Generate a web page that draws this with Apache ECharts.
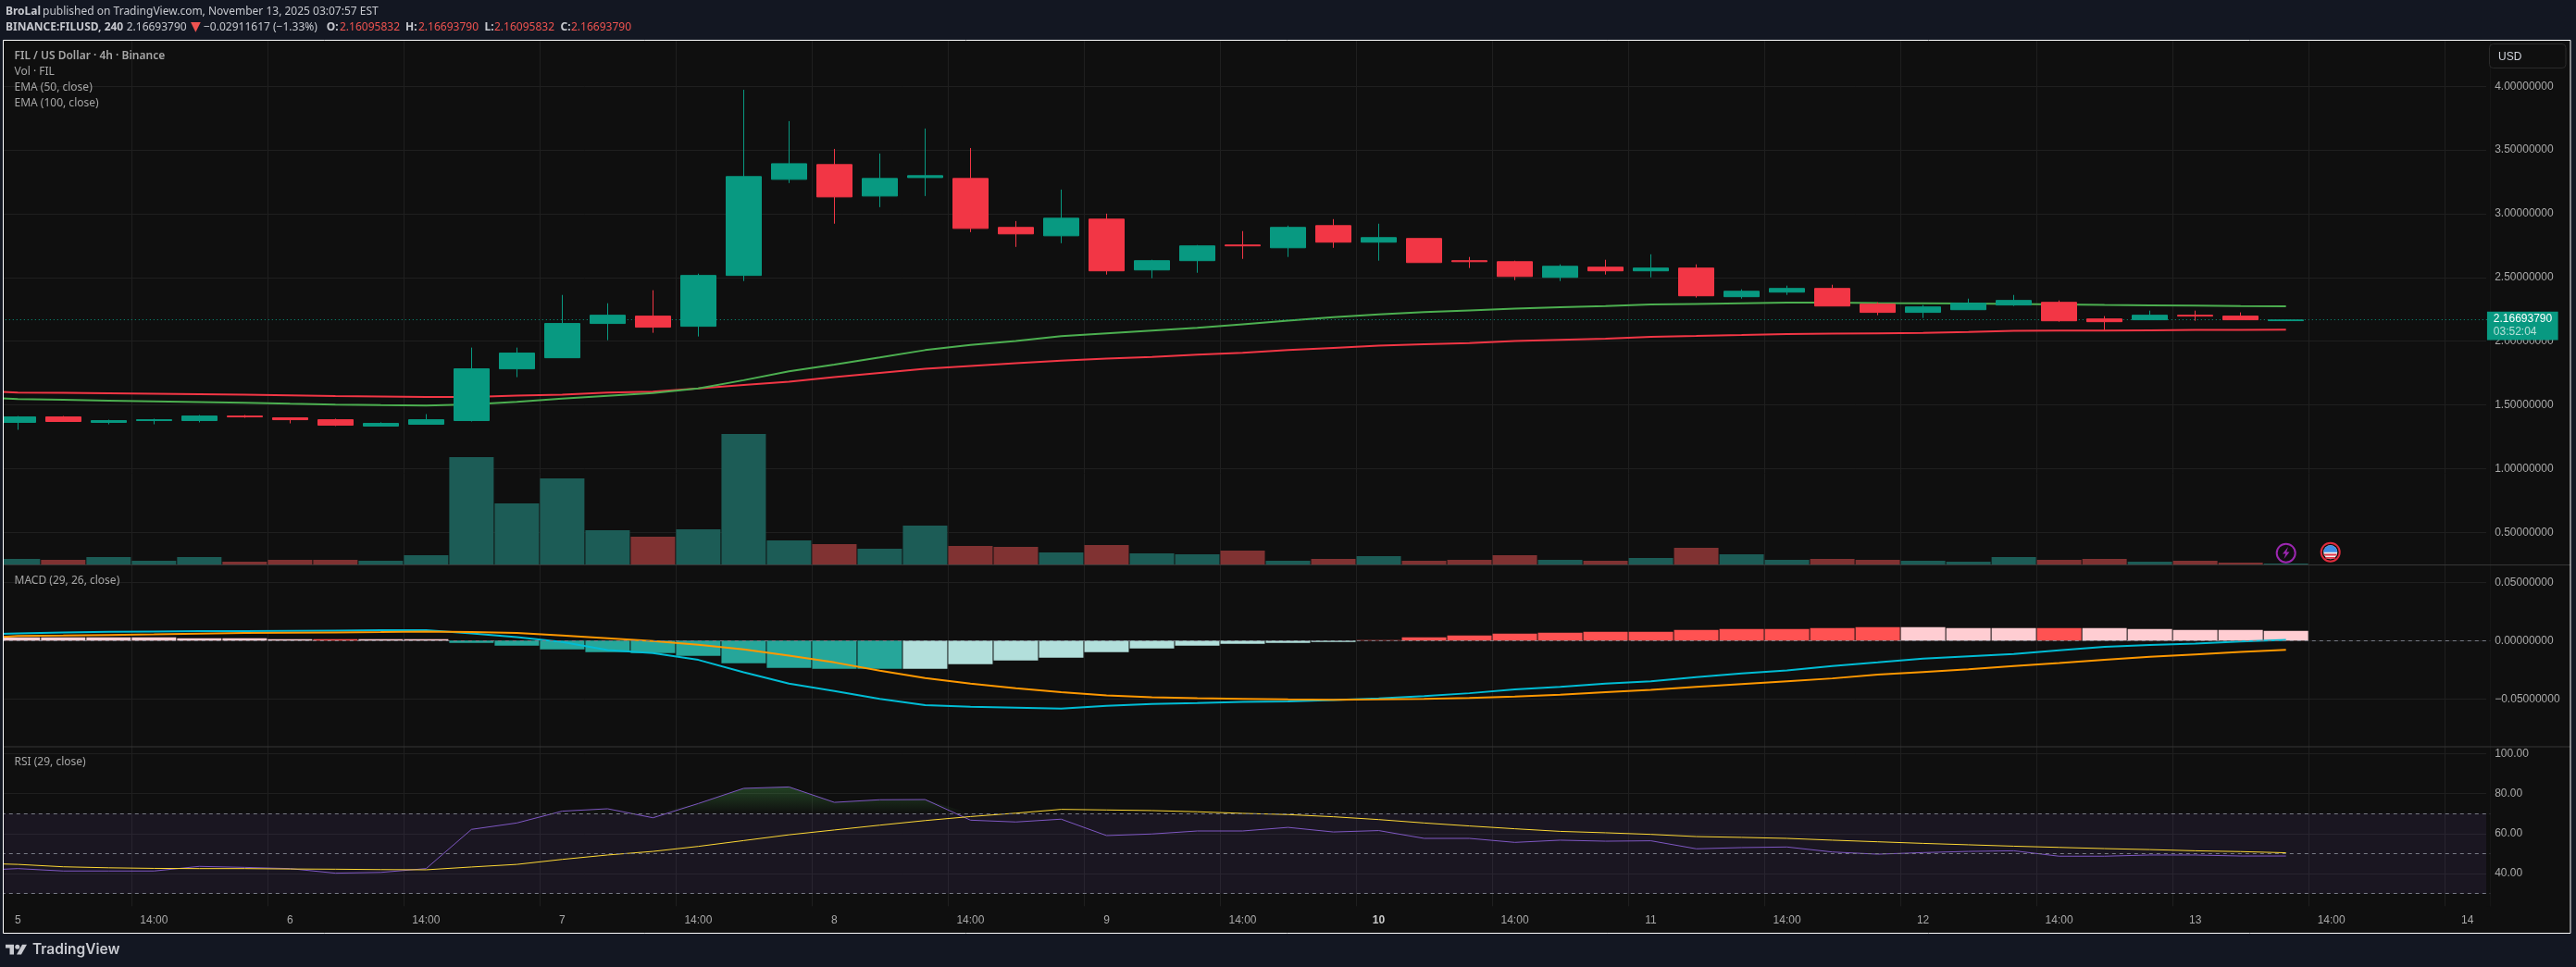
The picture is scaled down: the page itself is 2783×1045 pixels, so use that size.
<!DOCTYPE html>
<html><head><meta charset="utf-8"><title>FIL / US Dollar</title>
<script src="https://cdn.jsdelivr.net/npm/echarts@6/dist/echarts.min.js"></script>
<style>html,body{margin:0;padding:0;background:#131722;overflow:hidden}#c{position:absolute;left:-60px;top:0;width:2843px;height:1045px}</style>
</head><body><div id="c"></div>
<script>
const timeTicks=["5","14:00","6","14:00","7","14:00","8","14:00","9","14:00","10","14:00","11","14:00","12","14:00","13","14:00","14"];
const opens=[1.363,1.406,1.363,1.377,1.377,1.413,1.399,1.384,1.334,1.348,1.377,1.783,1.870,2.139,2.197,2.117,2.516,3.270,3.386,3.139,3.284,3.277,2.893,2.827,2.958,2.559,2.632,2.755,2.733,2.907,2.777,2.806,2.632,2.624,2.501,2.581,2.552,2.574,2.349,2.385,2.414,2.291,2.226,2.247,2.284,2.305,2.175,2.168,2.204,2.197,2.16095832];
const closes=[1.406,1.370,1.377,1.384,1.413,1.406,1.384,1.341,1.355,1.384,1.783,1.907,2.139,2.204,2.110,2.516,3.292,3.393,3.132,3.277,3.299,2.885,2.842,2.965,2.552,2.632,2.748,2.748,2.893,2.777,2.813,2.617,2.624,2.508,2.588,2.552,2.574,2.356,2.392,2.414,2.276,2.226,2.269,2.298,2.320,2.160,2.153,2.204,2.197,2.168,2.16693790];
const lows=[1.305,1.370,1.348,1.348,1.363,1.399,1.355,1.334,1.334,1.348,1.370,1.718,1.870,2.008,2.066,2.037,2.472,3.241,2.922,3.052,3.139,2.856,2.740,2.769,2.523,2.494,2.537,2.646,2.661,2.733,2.632,2.617,2.574,2.479,2.472,2.523,2.501,2.342,2.334,2.363,2.276,2.204,2.182,2.247,2.276,2.153,2.088,2.168,2.160,2.168,2.16095832];
const highs=[1.413,1.413,1.384,1.392,1.421,1.421,1.399,1.392,1.363,1.428,1.950,1.950,2.363,2.298,2.400,2.530,3.973,3.727,3.509,3.473,3.669,3.516,2.943,3.190,3.001,2.639,2.755,2.864,2.907,2.958,2.922,2.806,2.661,2.632,2.603,2.639,2.682,2.603,2.407,2.436,2.443,2.305,2.284,2.334,2.363,2.320,2.197,2.240,2.240,2.226,2.16693790];
const volumes=[6,5,8,4,8,3,5,5,4,10,116,66,93,37,30,38,141,26,22,17,42,20,19,13,21,12,11,15,4,6,9,4,5,10,5,4,7,18,11,5,6,5,4,3,8,5,6,3,4,2,1];
const macdHist=[.0028,.0028,.0028,.0028,.0020,.0020,.0012,.0012,.0012,.0012,-.0020,-.0044,-.0075,-.0099,-.0107,-.0131,-.0194,-.0234,-.0242,-.0242,-.0242,-.0202,-.0171,-.0147,-.0099,-.0067,-.0044,-.0028,-.0020,-.0012,.0004,.0028,.0044,.0060,.0067,.0075,.0075,.0091,.0099,.0099,.0107,.0115,.0115,.0107,.0107,.0107,.0107,.0099,.0091,.0091,.0083];
const macdShade="PPPPPPPRPPTTTTTTTTTTLLLLLLLLLLRRRRRRRRRRRRPPPRPPPPP".split("");
// Indicator lines carry one extra leading value: the bar just off the left edge, so the lines reach the border.
const ema50=[1.562,1.546,1.540,1.534,1.528,1.522,1.517,1.509,1.503,1.498,1.495,1.505,1.524,1.549,1.571,1.593,1.629,1.694,1.764,1.816,1.872,1.930,1.970,2.001,2.039,2.061,2.083,2.105,2.133,2.162,2.189,2.211,2.228,2.242,2.255,2.267,2.276,2.289,2.293,2.298,2.303,2.303,2.300,2.298,2.296,2.293,2.289,2.284,2.281,2.279,2.276,2.274];
const ema100=[1.613,1.597,1.595,1.591,1.587,1.584,1.580,1.575,1.569,1.566,1.563,1.563,1.573,1.580,1.597,1.604,1.629,1.656,1.682,1.718,1.752,1.783,1.805,1.827,1.848,1.863,1.877,1.894,1.909,1.930,1.948,1.965,1.977,1.986,2.001,2.010,2.020,2.035,2.041,2.048,2.057,2.059,2.062,2.066,2.073,2.081,2.083,2.084,2.086,2.088,2.089,2.090];
const macdLine=[.0052,.0062,.0070,.0075,.0078,.0081,.0081,.0083,.0086,.0089,.0089,.0062,.0030,-.0012,-.0081,-.0107,-.0165,-.0271,-.0369,-.0433,-.0499,-.0554,-.0567,-.0575,-.0583,-.0560,-.0544,-.0536,-.0525,-.0522,-.0509,-.0496,-.0475,-.0451,-.0419,-.0396,-.0369,-.0348,-.0313,-.0282,-.0255,-.0218,-.0187,-.0155,-.0134,-.0115,-.0083,-.0054,-.0038,-.0025,-.0007,.0007];
const signalLine=[.0017,.0041,.0044,.0049,.0054,.0060,.0065,.0067,.0070,.0073,.0078,.0073,.0065,.0044,.0020,-.0004,-.0036,-.0075,-.0128,-.0187,-.0258,-.0321,-.0369,-.0409,-.0443,-.0470,-.0485,-.0493,-.0499,-.0504,-.0507,-.0504,-.0499,-.0491,-.0480,-.0464,-.0443,-.0422,-.0396,-.0372,-.0348,-.0324,-.0292,-.0269,-.0245,-.0218,-.0192,-.0165,-.0139,-.0118,-.0097,-.0078];
const rsi=[41.5,42.5,41.3,41.3,41.3,43.6,43.1,42.5,40.2,40.6,42.5,62.1,65.3,71.2,72.4,67.9,75.0,82.6,83.3,75.6,76.9,77.0,66.7,65.8,67.2,59.0,59.8,61.3,61.3,63.1,60.8,61.5,57.6,57.6,55.6,56.7,56.2,56.4,52.4,53.0,53.3,50.8,49.7,50.5,51.1,51.4,48.7,48.7,49.3,49.3,48.8,48.8];
const rsiMA=[45.2,44.6,43.4,42.9,42.6,42.5,42.5,42.3,42.2,42.0,41.9,43.3,44.6,47.1,49.3,51.1,53.6,56.5,59.4,61.8,64.2,66.5,68.5,70.2,72.1,71.8,71.5,70.9,70.1,69.5,68.4,67.0,65.3,63.8,62.4,61.1,60.4,59.6,58.5,58.1,57.6,56.7,55.9,55.1,54.4,53.7,53.1,52.5,52.0,51.4,51.0,50.4];
const priceTicks={min:0.5,max:4,interval:0.5};
const macdTicks={min:-0.05,max:0.05,interval:0.05};
const rsiTicks=[40,60,80,100];
const lastPrice="2.16693790", countdown="03:52:04";

const OFF=60;
const categories=[""];for(let i=0;i<55;i++)categories.push(i%3===0?timeTicks[i/3]:"");
const onTick=i=>(i-1)%3===0;
const UP="#089981",DN="#F23645",GRID="#1f1f1f",AX="#a9a9a9",LEG="#a6a6a6",HD="#c6c8ce",RD="#ef5350";
const shade={P:"#FFCDD2",R:"#FF5252",T:"#26A69A",L:"#B2DFDB"};
const AF="'Liberation Sans',Arial,sans-serif",NF="'Noto Sans',sans-serif";
const L=-54.2+OFF,W=56*49.007;
const gridOf=(t,b)=>({left:L,width:W,top:t,bottom:1045-b});
const fmt8=v=>{const x=Math.abs(v)<1e-9?0:v;return x.toFixed(8).replace("-","\u2212")};
const yBase={position:"right",axisLine:{show:false},axisTick:{show:false},splitLine:{show:true,lineStyle:{color:GRID,width:1}},
  axisLabel:{color:AX,fontFamily:AF,fontSize:12,margin:5,align:"left"}};
const hiddenX=i=>({type:"category",gridIndex:i,data:categories,show:false,boundaryGap:true});
const t=(x,y,text,fill,font)=>({type:"text",z:20,style:{x,y,text,fill,font:font||("12px "+NF),verticalAlign:"middle"},silent:true});
const B="bold 12px "+NF;
const rect=(x,y,w,h,fill,z,extra)=>({type:"rect",z,silent:true,shape:{x,y,width:w,height:h},style:Object.assign({fill},extra||{})});

const elements=[
  rect(3.5,43.5,2773.5,965,"#0f0f0f",-1),
  rect(2686,44,4.5,935.5,"#0f0f0f",3),
  rect(-60,0,63,1045,"#131722",50),
  rect(2777.5,0,6,1045,"#131722",50),
  rect(3.5,43.5,2773.5,965,"none",51,{stroke:"#ffffff",lineWidth:1}),
  rect(4,610,2773,1,"#363636",4),
  rect(4,806.5,2773,1,"#363636",4),
  {type:"rect",z:20,silent:true,shape:{x:2689.5,y:47.5,width:82.5,height:26,r:4},style:{fill:"#0f0f0f",stroke:"#2a2a2a",lineWidth:1}},
  t(2699,61.5,"USD","#d1d4dc","12px "+AF),
  t(6,12.5,"BroLal",HD,B),
  t(46,12.5,"published on TradingView.com, November 13, 2025 03:07:57 EST",HD),
  t(6,29.5,"BINANCE:FILUSD, 240",HD,B),
  t(136.7,29.5,"2.16693790",HD),
  t(206,29.5,"\u25BC",RD,"14px 'DejaVu Sans'"),
  t(220,29.5,"\u22120.02911617 (\u22121.33%)",HD),
  t(352.7,29.5,"O:",HD,B),t(367,29.5,"2.16095832",RD),
  t(438,29.5,"H:",HD,B),t(452,29.5,"2.16693790",RD),
  t(523.5,29.5,"L:",HD,B),t(534,29.5,"2.16095832",RD),
  t(605.6,29.5,"C:",HD,B),t(617,29.5,"2.16693790",RD),
  t(15.5,60.5,"FIL / US Dollar \u00B7 4h \u00B7 Binance",LEG,"600 12px "+NF),
  t(15.5,77.5,"Vol \u00B7 FIL",LEG),
  t(15.5,94.5,"EMA (50, close)",LEG),
  t(15.5,111.5,"EMA (100, close)",LEG),
  t(15.5,627.5,"MACD (29, 26, close)",LEG),
  t(15.5,823.5,"RSI (29, close)",LEG),
  {type:"polygon",z:20,silent:true,shape:{points:[[6,1020.8],[15,1020.8],[15,1031.6],[10.5,1031.6],[10.5,1024.6],[6,1024.6]]},style:{fill:"#c8cad0"}},
  {type:"circle",z:20,silent:true,shape:{cx:18.8,cy:1023.2,r:2.5},style:{fill:"#c8cad0"}},
  {type:"polygon",z:20,silent:true,shape:{points:[[24,1020.8],[29,1020.8],[23,1031.6],[18,1031.6]]},style:{fill:"#c8cad0"}},
  t(35,1026.5,"TradingView","#c8cad0","600 15.5px Inter,sans-serif"),
  {type:"circle",z:20,silent:true,shape:{cx:2469.7,cy:597.7,r:10},style:{fill:"#0f0f0f",stroke:"#9c27b0",lineWidth:2}},
  {type:"polygon",z:21,silent:true,shape:{points:[[2472,591],[2466,598.5],[2469.3,598.5],[2467.5,604],[2473.5,596.5],[2470.2,596.5]]},style:{fill:"#9c27b0"}},
  {type:"circle",z:20,silent:true,shape:{cx:2517.7,cy:596.7,r:10},style:{fill:"#0f0f0f",stroke:"#e02b3c",lineWidth:2}},
  {type:"circle",z:21,silent:true,shape:{cx:2517.7,cy:596.7,r:7.5},style:{fill:"#f0f0f0"}},
  {type:"sector",z:22,silent:true,shape:{cx:2517.7,cy:596.7,r:7.5,r0:0,startAngle:Math.PI,endAngle:2*Math.PI},style:{fill:"#3f8fe6"}},
  rect(2511,598.5,13.4,2,"#e0394a",22),
  rect(2512.5,602,10.4,1.8,"#e0394a",22)
].map(e=>Object.assign(e,{x:OFF}));

const option={
  animation:false,backgroundColor:"#131722",
  grid:[gridOf(93.3,575.3),gridOf(469,610),gridOf(629.3,755.3),gridOf(814.3,965.7),gridOf(43.5,979.3)],
  xAxis:[hiddenX(0),hiddenX(1),hiddenX(2),hiddenX(3),{
    type:"category",gridIndex:4,data:categories,boundaryGap:true,
    axisLine:{show:false},axisTick:{show:false,alignWithLabel:true,interval:onTick},
    splitLine:{show:true,interval:onTick,lineStyle:{color:GRID,width:1}},
    axisLabel:{interval:onTick,margin:9,color:AX,fontFamily:AF,fontSize:12,hideOverlap:false,
      formatter:v=>v==="10"?"{b|10}":v,rich:{b:{fontWeight:"bold",color:"#c8c8c8",fontFamily:AF,fontSize:12}}}
  }],
  yAxis:[
    Object.assign({},yBase,{type:"value",gridIndex:0,min:priceTicks.min,max:priceTicks.max,interval:priceTicks.interval,axisLabel:Object.assign({},yBase.axisLabel,{formatter:fmt8})}),
    {type:"value",gridIndex:1,min:0,max:141,show:false},
    Object.assign({},yBase,{type:"value",gridIndex:2,min:macdTicks.min,max:macdTicks.max,interval:macdTicks.interval,axisLabel:Object.assign({},yBase.axisLabel,{formatter:fmt8})}),
    Object.assign({},yBase,{type:"value",gridIndex:3,min:30,max:100,axisTick:{show:false,customValues:rsiTicks},axisLabel:Object.assign({},yBase.axisLabel,{customValues:rsiTicks,formatter:v=>v.toFixed(2)})}),
    {type:"value",gridIndex:4,show:false}
  ],
  series:[
    {name:"EMA 100",type:"line",xAxisIndex:0,yAxisIndex:0,data:ema100,showSymbol:false,z:2,lineStyle:{color:DN,width:2}},
    {name:"EMA 50",type:"line",xAxisIndex:0,yAxisIndex:0,data:ema50,showSymbol:false,z:2,lineStyle:{color:"#4CAF50",width:2}},
    {name:"FILUSD",type:"candlestick",xAxisIndex:0,yAxisIndex:0,z:5,barWidth:39,
      data:[["-","-","-","-"]].concat(opens.map((o,i)=>[o,closes[i],lows[i],highs[i]])),
      itemStyle:{color:UP,color0:DN,borderColor:UP,borderColor0:DN,borderWidth:1},
      markLine:{silent:true,symbol:"none",label:{show:false},lineStyle:{color:UP,type:[1,3],width:1},data:[{yAxis:+lastPrice}]},
      markPoint:{silent:true,symbol:"rect",symbolSize:[76.7,30.7],symbolOffset:[59.6,6.4],itemStyle:{color:UP},
        label:{show:true,position:"inside",formatter:"{a|"+lastPrice+"}\n{b|"+countdown+"}",rich:{
          a:{color:"#ffffff",fontFamily:AF,fontSize:12,lineHeight:14,width:63,align:"left"},
          b:{color:"#b5e0d8",fontFamily:AF,fontSize:12,lineHeight:14,width:63,align:"left"}}},
        data:[{coord:[55,+lastPrice]}]}
    },
    {name:"Vol",type:"bar",xAxisIndex:1,yAxisIndex:1,z:2,barWidth:48,
      data:["-"].concat(volumes.map((v,i)=>({value:v,itemStyle:{color:closes[i]>=opens[i]?"#1c5c56":"#803232"}})))},
    {name:"Histogram",type:"bar",xAxisIndex:2,yAxisIndex:2,z:2,barWidth:48,
      data:["-"].concat(macdHist.map((v,i)=>({value:v,itemStyle:{color:shade[macdShade[i]]}})))},
    {name:"MACD",type:"line",xAxisIndex:2,yAxisIndex:2,data:macdLine,showSymbol:false,z:2,clip:false,lineStyle:{color:"#00BCD4",width:2},
      markLine:{silent:true,symbol:"none",label:{show:false},lineStyle:{color:"#787b86",type:[4,4],width:1},data:[{yAxis:0}]}},
    {name:"Signal",type:"line",xAxisIndex:2,yAxisIndex:2,data:signalLine,showSymbol:false,z:2,clip:false,lineStyle:{color:"#FF9800",width:2}},
    {name:"RSI overbought",type:"line",xAxisIndex:3,yAxisIndex:3,data:rsi.map(v=>Math.max(v,70)),showSymbol:false,z:2,lineStyle:{width:0,opacity:0},
      areaStyle:{origin:70,opacity:1,color:{type:"linear",x:0,y:0,x2:0,y2:1,colorStops:[{offset:0,color:"rgba(76,175,80,0.32)"},{offset:1,color:"rgba(76,175,80,0)"}]}}},
    {name:"RSI",type:"line",xAxisIndex:3,yAxisIndex:3,data:rsi,showSymbol:false,z:2,lineStyle:{color:"#7E57C2",width:1},
      markArea:{silent:true,itemStyle:{color:"rgba(126,87,194,0.1)"},data:[[{yAxis:30},{yAxis:70}]]},
      markLine:{silent:true,symbol:"none",label:{show:false},lineStyle:{color:"#787b86",type:[4,4],width:1},data:[{yAxis:70},{yAxis:50},{yAxis:30}]}},
    {name:"RSI MA",type:"line",xAxisIndex:3,yAxisIndex:3,data:rsiMA,showSymbol:false,z:2,lineStyle:{color:"#FDD835",width:1}}
  ],
  graphic:{elements}
};
const chart=echarts.init(document.getElementById("c"),null,{renderer:"canvas",width:2843,height:1045});
chart.setOption(option);
</script></body></html>
